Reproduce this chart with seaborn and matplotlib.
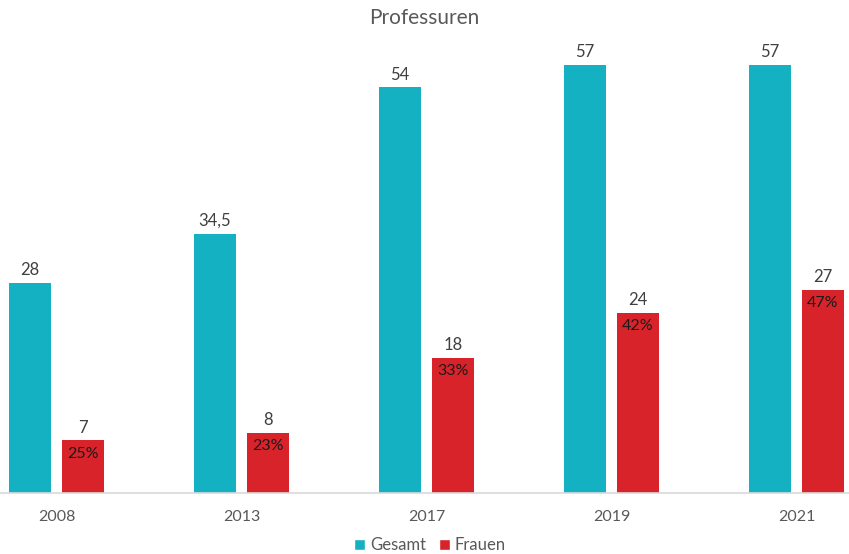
import matplotlib
matplotlib.use("Agg")
import matplotlib.pyplot as plt
import seaborn as sns
import pandas as pd
from matplotlib.patches import Patch

years = ["2008", "2013", "2017", "2019", "2021"]
gesamt = [28, 34.5, 54, 57, 57]
frauen = [7, 8, 18, 24, 27]
gesamt_labels = ["28", "34,5", "54", "57", "57"]
frauen_labels = ["7", "8", "18", "24", "27"]
frauen_anteil = ["25%", "23%", "33%", "42%", "47%"]
series = ["Gesamt", "Frauen"]
colors = {"Gesamt": "#14B1C3", "Frauen": "#D9232B"}

df = pd.DataFrame({
    "Jahr": years * 2,
    "Wert": gesamt + frauen,
    "Reihe": ["Gesamt"] * len(years) + ["Frauen"] * len(years),
})

sns.set_style("white")
plt.rcParams["font.family"] = ["Lato", "DejaVu Sans"]

fig = plt.figure(figsize=(8.49, 5.54), dpi=100)
ax = fig.add_axes([0, 61 / 554, 1, 493 / 554])

sns.barplot(data=df, x="Jahr", y="Wert", hue="Reihe", hue_order=series,
            palette=colors, width=0.573, gap=0.208, ax=ax, legend=False,
            saturation=1, linewidth=0)

ax.set_xlim(-0.305, 4.284)
ax.set_ylim(0, 65.65)
ax.set_xlabel("")
ax.set_ylabel("")
ax.set_yticks([])
for side in ["left", "right", "top"]:
    ax.spines[side].set_visible(False)
ax.spines["bottom"].set_color("#D9D9D9")
ax.spines["bottom"].set_linewidth(1.2)
ax.tick_params(axis="x", length=0, pad=12, labelsize=11.5, labelcolor="#595959")

cont_g, cont_f = ax.containers[0], ax.containers[1]
ax.bar_label(cont_g, labels=gesamt_labels, padding=3.5, fontsize=12, color="#404040")
ax.bar_label(cont_f, labels=frauen_labels, padding=3.5, fontsize=12, color="#404040")
for bar, txt in zip(cont_f, frauen_anteil):
    ax.annotate(txt, (bar.get_x() + bar.get_width() / 2, bar.get_height()),
                xytext=(0, -4.5), textcoords="offset points",
                ha="center", va="top", fontsize=11.5, color="#1A1A1A")

fig.text(0.5, 1 - 18 / 554, "Professuren", ha="center", va="center",
         fontsize=15, color="#595959")

handles = [Patch(facecolor=colors[s], label=s) for s in series]
fig.legend(handles=handles, loc="center", bbox_to_anchor=(430 / 849, 1 - 545 / 554),
           ncol=2, frameon=False, fontsize=12, handlelength=0.65, handleheight=0.65,
           handletextpad=0.3, columnspacing=0.8, labelcolor="#595959")

fig.savefig("out.png", dpi=100)
